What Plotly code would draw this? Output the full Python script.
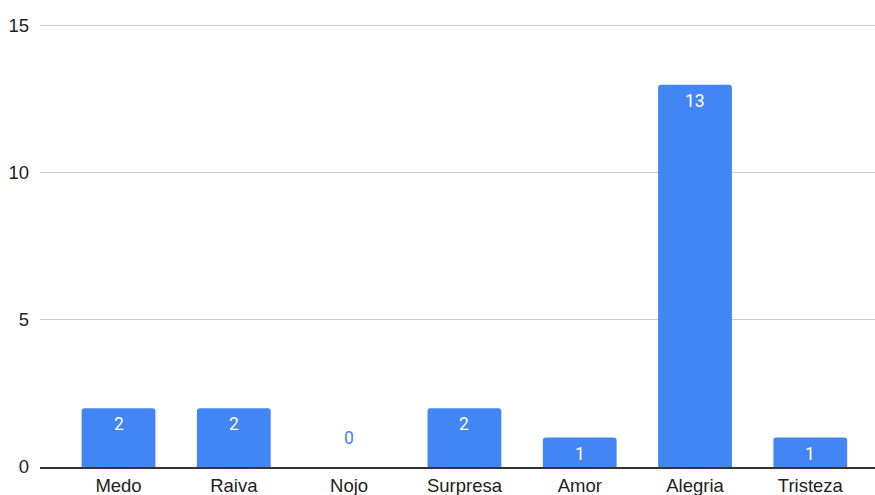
import plotly.graph_objects as go

# Emotion counts
categories = ["Medo", "Raiva", "Nojo", "Surpresa", "Amor", "Alegria", "Tristeza"]
counts = [2, 2, 0, 2, 1, 13, 1]
y_ticks = [0, 5, 10, 15]

BLUE = "#4285F4"
LABEL_FONT = "Roboto"
AXIS_FONT = "Liberation Sans, Arial"

fig = go.Figure(
    go.Bar(
        x=categories,
        y=counts,
        width=0.64,
        marker=dict(color=BLUE, line=dict(width=0)),
        hoverinfo="x+y",
    )
)

# Value labels: white just under the top of each bar, blue above the baseline for zeros
for cat, v in zip(categories, counts):
    if v > 0:
        fig.add_annotation(
            x=cat, y=v, text=str(v), showarrow=False, yshift=-16,
            font=dict(family=LABEL_FONT, size=17.5, color="white"),
        )
    else:
        fig.add_annotation(
            x=cat, y=v, text=str(v), showarrow=False, yshift=29,
            font=dict(family=LABEL_FONT, size=17.5, color=BLUE),
        )

fig.update_layout(
    width=875,
    height=495,
    margin=dict(l=40, r=0, t=23, b=27.5),
    plot_bgcolor="white",
    paper_bgcolor="white",
    showlegend=False,
    barcornerradius=3,
    font=dict(family=AXIS_FONT, size=18.5, color="#222222"),
)
fig.update_xaxes(
    range=[-0.681, 6.561],
    showgrid=False,
    showline=True,
    linecolor="#333333",
    linewidth=1.5,
    ticks="",
    ticklabelstandoff=1,
    automargin=False,
    tickfont=dict(family=AXIS_FONT, size=18.5, color="#222222"),
    fixedrange=True,
)
fig.update_yaxes(
    range=[0, 15.1],
    tickvals=y_ticks,
    showgrid=True,
    gridcolor="#cccccc",
    gridwidth=1,
    zeroline=False,
    showline=False,
    ticks="",
    ticklabelstandoff=10,
    automargin=False,
    tickfont=dict(family=AXIS_FONT, size=18.5, color="#222222"),
    fixedrange=True,
)

fig.write_html("out.html")
